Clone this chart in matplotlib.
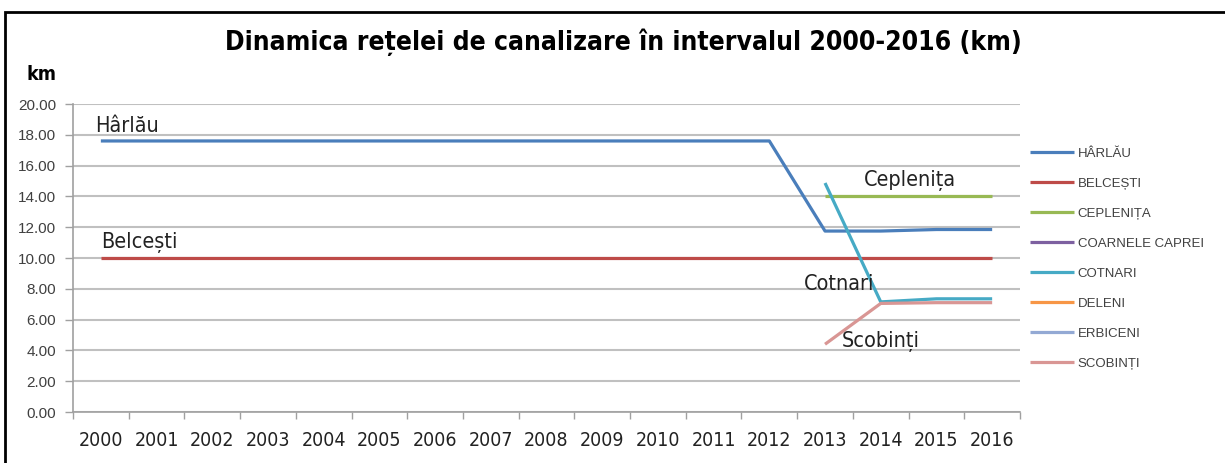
import matplotlib
matplotlib.use("Agg")
import matplotlib.pyplot as plt
import numpy as np
from matplotlib.patches import Rectangle

# date
ani = [str(a) for a in range(2000, 2017)]
nan = np.nan

harlau = [17.6] * 13 + [11.75, 11.75, 11.85, 11.85]
belcesti = [10.0] * 17
ceplenita = [nan] * 13 + [14.0, 14.0, 14.0, 14.0]
coarnele_caprei = [nan] * 17
cotnari = [nan] * 13 + [14.87, 7.15, 7.35, 7.35]
deleni = [nan] * 17
erbiceni = [nan] * 17
scobinti = [nan] * 13 + [4.4, 7.05, 7.1, 7.1]

serii = ["HÂRLĂU", "BELCEȘTI", "CEPLENIȚA", "COARNELE CAPREI",
         "COTNARI", "DELENI", "ERBICENI", "SCOBINȚI"]
valori = [harlau, belcesti, ceplenita, coarnele_caprei,
          cotnari, deleni, erbiceni, scobinti]
culori = ["#4A7EBB", "#BE4B48", "#98B954", "#7D60A0",
          "#46AAC5", "#F79646", "#93A9D4", "#D99694"]

ingust = dict(family="DejaVu Sans", stretch="condensed")
normal = ["Liberation Sans", "DejaVu Sans"]

W, H = 1225, 463
fig = plt.figure(figsize=(W / 100, H / 100), dpi=100)

# chenar
fig.patches.append(Rectangle((5 / W, -0.1), 1.2, 1 - 12 / H + 0.1,
                             transform=fig.transFigure, fill=False,
                             edgecolor="black", linewidth=2))

ax = fig.add_axes([73 / W, 1 - 412 / H, (1020 - 73) / W, (412 - 104) / H])
x = np.arange(len(ani))

for nume, val, c in zip(serii, valori, culori):
    ax.plot(x, val, color=c, linewidth=2.3, label=nume, solid_capstyle="butt")

ax.set_xlim(-0.5, len(ani) - 0.5)
ax.set_ylim(0, 20)
ax.set_yticks(np.arange(0, 21, 2))
ax.set_yticklabels(["%.2f" % v for v in np.arange(0, 21, 2)],
                   family=normal, fontsize=11, color="#404040")
ax.set_xticks(x)
ax.set_xticklabels(ani, fontsize=14, color="#222222", **ingust)
ax.set_xticks(np.arange(-0.5, len(ani)), minor=True)
ax.tick_params(axis="x", which="major", length=0, pad=14)
ax.tick_params(axis="x", which="minor", length=5, color="#A0A0A0", width=1)
ax.tick_params(axis="y", length=6, color="#A0A0A0", width=1, pad=6)
ax.grid(axis="y", color="#C0C0C0", linewidth=1.5)
ax.set_axisbelow(True)
for s in ["top", "right"]:
    ax.spines[s].set_visible(False)
for s in ["left", "bottom"]:
    ax.spines[s].set_color("#A0A0A0")
    ax.spines[s].set_linewidth(1.2)

# etichete pe grafic
eticheta = dict(fontsize=15.5, color="#222222", **ingust)
ax.text(-0.1, harlau[0] + 0.35, "Hârlău", ha="left", va="bottom", **eticheta)
ax.text(0.0, belcesti[0] + 0.35, "Belcești", ha="left", va="bottom", **eticheta)
ax.text(14.53, ceplenita[13] + 0.35, "Ceplenița", ha="center", va="bottom", **eticheta)
ax.text(13.25, 8.3, "Cotnari", ha="center", va="center", **eticheta)
ax.text(14.0, 4.6, "Scobinți", ha="center", va="center", **eticheta)

fig.text(623 / W, 1 - 42 / H, "Dinamica rețelei de canalizare în intervalul 2000-2016 (km)",
         ha="center", va="center", fontsize=19, weight="bold", **ingust)
fig.text(41 / W, 1 - 75 / H, "km", ha="center", va="center",
         fontsize=14, weight="bold", **ingust)

leg = fig.legend(loc="upper left", bbox_to_anchor=(1025 / W, 1 - 142 / H),
                 frameon=False, prop={"family": normal, "size": 9.5},
                 handlelength=3.3, handletextpad=0.3, labelspacing=1.35,
                 borderaxespad=0)
for t in leg.get_texts():
    t.set_color("#404040")

fig.savefig("out.png", dpi=100)
